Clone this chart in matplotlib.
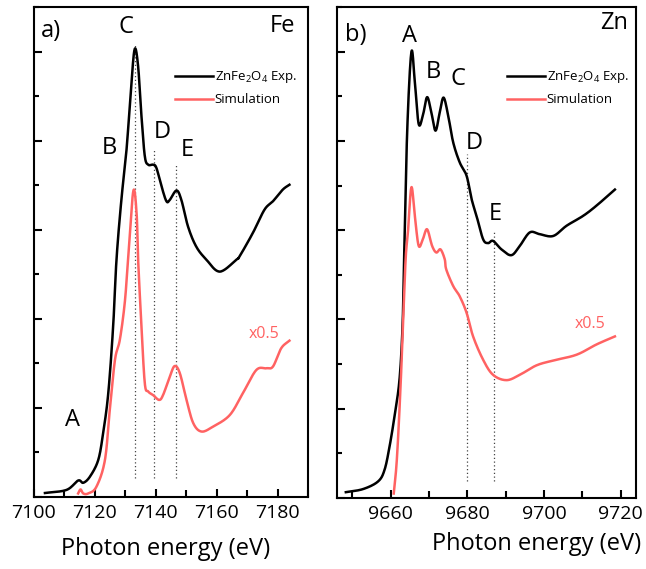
import numpy as np
import matplotlib
matplotlib.use("Agg")
import matplotlib.pyplot as plt
from matplotlib.ticker import MultipleLocator

plt.rcParams['font.family'] = ['Open Sans', 'DejaVu Sans']
plt.rcParams['mathtext.default'] = 'regular'

RED = '#ff6262'

# ==========================================
# DATA
# ==========================================
# Fe K-edge
fe_exp_x = [7103.6, 7110.7, 7114.5, 7116.2, 7118.4, 7121.1, 7122.7, 7124.4, 7126.0, 7127.1,
            7128.7, 7130.4, 7132.0, 7133.1, 7134.2, 7135.3, 7136.4, 7137.5, 7139.1, 7140.2,
            7141.9, 7143.5, 7144.6, 7146.8, 7148.4, 7150.6, 7153.3, 7156.6, 7161.0, 7166.5,
            7167.5, 7171.9, 7175.7, 7178.5, 7181.7, 7183.9]
fe_exp_y = [0.09, 0.16, 0.37, 0.32, 0.46, 0.83, 1.43, 2.33, 3.83, 5.33,
            6.67, 7.80, 9.30, 10.06, 9.67, 8.55, 7.65, 7.46, 7.46, 7.39,
            6.97, 6.64, 6.67, 6.88, 6.67, 6.07, 5.62, 5.33, 5.06, 5.33,
            5.40, 5.93, 6.45, 6.64, 6.90, 7.01]

fe_sim_x = [7114.5, 7115.3, 7116.2, 7117.8, 7120.5, 7123.3, 7124.9, 7126.6, 7128.2, 7129.8,
            7130.9, 7132.6, 7133.7, 7134.2, 7135.3, 7136.4, 7137.5, 7139.1, 7141.1, 7142.4,
            7144.6, 7146.2, 7147.9, 7150.1, 7152.3, 7155.0, 7158.8, 7164.3, 7168.6, 7173.0,
            7176.3, 7178.5, 7181.2, 7183.9]
fe_sim_y = [0.08, 0.17, 0.08, 0.08, 0.23, 0.83, 1.96, 3.08, 3.53, 4.35,
            5.33, 6.86, 6.37, 5.33, 3.83, 2.55, 2.37, 2.29, 2.18, 2.29,
            2.70, 2.94, 2.78, 2.18, 1.66, 1.47, 1.58, 1.84, 2.33, 2.85,
            2.89, 2.93, 3.34, 3.51]

fe_marks_x = [7133.3, 7139.4, 7146.6]
fe_marks_top = [10.2, 7.8, 7.5]

# Zn K-edge
zn_exp_x = [9648.3, 9652.8, 9656.7, 9658.4, 9659.7, 9661.0, 9662.3, 9663.1, 9663.5, 9664.3,
            9665.4, 9666.3, 9667.3, 9668.4, 9669.5, 9670.6, 9671.7, 9672.8, 9673.8, 9675.0,
            9676.3, 9678.0, 9679.8, 9681.1, 9682.4, 9684.1, 9685.4, 9686.7, 9688.9, 9691.5,
            9693.7, 9696.3, 9698.9, 9702.4, 9705.9, 9710.2, 9713.7, 9718.5]
zn_exp_y = [0.13, 0.20, 0.37, 0.63, 1.15, 1.83, 2.65, 3.85, 5.35, 8.20,
            9.99, 9.32, 8.38, 8.57, 8.98, 8.64, 8.23, 8.64, 8.97, 8.57,
            7.97, 7.52, 7.22, 6.70, 6.32, 5.80, 5.71, 5.76, 5.57, 5.44,
            5.65, 5.95, 5.91, 5.87, 6.10, 6.32, 6.55, 6.91]

zn_sim_x = [9660.8, 9661.6, 9662.5, 9663.2, 9663.9, 9664.5, 9665.4, 9666.3, 9667.3, 9668.4,
            9669.5, 9670.8, 9671.9, 9673.0, 9674.1, 9674.5, 9676.3, 9678.0, 9679.8, 9681.5,
            9684.1, 9686.7, 9690.2, 9693.7, 9698.0, 9702.4, 9708.5, 9713.7, 9718.5]
zn_sim_y = [0.10, 0.85, 2.35, 3.85, 5.35, 5.95, 6.96, 6.32, 5.65, 5.80,
            6.02, 5.65, 5.50, 5.57, 5.35, 5.12, 4.75, 4.52, 4.15, 3.62,
            3.10, 2.76, 2.64, 2.76, 2.97, 3.08, 3.21, 3.44, 3.62]

zn_marks_x = [9679.8, 9686.9]
zn_marks_top = [7.7, 5.98]


def smooth(x, y):
    # courbe lissée (Catmull-Rom) passant par les points lus
    x = np.asarray(x, float)
    y = np.asarray(y, float)
    px = np.concatenate([[2 * x[0] - x[1]], x, [2 * x[-1] - x[-2]]])
    py = np.concatenate([[2 * y[0] - y[1]], y, [2 * y[-1] - y[-2]]])
    xs, ys = [], []
    t = np.linspace(0, 1, 20)[:-1]
    for i in range(1, len(px) - 2):
        p0, p1, p2, p3 = (np.array([px[j], py[j]]) for j in range(i - 1, i + 3))
        for tt in t:
            pt = 0.5 * ((2 * p1) + (-p0 + p2) * tt + (2 * p0 - 5 * p1 + 4 * p2 - p3) * tt ** 2
                        + (-p0 + 3 * p1 - 3 * p2 + p3) * tt ** 3)
            xs.append(pt[0])
            ys.append(pt[1])
    xs.append(x[-1])
    ys.append(y[-1])
    return np.array(xs), np.array(ys)


fig = plt.figure(figsize=(6.46, 5.69), dpi=100)
ax1 = fig.add_axes([0.0526, 0.1265, 0.4242, 0.8612])
ax2 = fig.add_axes([0.5217, 0.1248, 0.4628, 0.8629])

lw = 1.8
for ax, ex, ey, sx, sy, mx, mt, mbot in [
        (ax1, fe_exp_x, fe_exp_y, fe_sim_x, fe_sim_y, fe_marks_x, fe_marks_top, 0.43),
        (ax2, zn_exp_x, zn_exp_y, zn_sim_x, zn_sim_y, zn_marks_x, zn_marks_top, 0.37)]:
    for xv, top in zip(mx, mt):
        ax.plot([xv, xv], [mbot, top], ls=(0, (1, 2)), color='#444444', lw=0.9)
    ax.plot(*smooth(ex, ey), color='black', lw=lw, label='ZnFe$_2$O$_4$ Exp.')
    ax.plot(*smooth(sx, sy), color=RED, lw=lw, label='Simulation')
    ax.set_ylim(0, 11)
    ax.yaxis.set_major_locator(MultipleLocator(2))
    ax.yaxis.set_minor_locator(MultipleLocator(1))
    ax.yaxis.set_major_formatter(plt.NullFormatter())
    ax.xaxis.set_major_locator(MultipleLocator(20))
    ax.xaxis.set_minor_locator(MultipleLocator(10))
    ax.tick_params(which='both', direction='in', width=1.5, labelsize=14, pad=5)
    ax.tick_params(which='major', length=6)
    ax.tick_params(which='minor', length=3.5)
    ax.tick_params(axis='x', which='minor', length=5)
    for sp in ax.spines.values():
        sp.set_linewidth(1.5)
    ax.set_xlabel('Photon energy (eV)', fontsize=17)

ax1.set_xlim(7100, 7190)
ax2.set_xlim(9646, 9724)
ax1.xaxis.set_label_coords(0.48, -0.082)
ax2.xaxis.set_label_coords(0.668, -0.07)

fs = 17
ax1.text(7105.6, 10.47, 'a)', fontsize=fs, ha='center', va='center')
ax1.text(7181.6, 10.58, 'Fe', fontsize=fs, ha='center', va='center')
for lab, xx, yy in [('C', 7130.2, 10.54), ('B', 7124.9, 7.84), ('D', 7142.3, 8.2),
                    ('E', 7150.5, 7.8), ('A', 7112.8, 1.73)]:
    ax1.text(xx, yy, lab, fontsize=fs, ha='center', va='center')
ax1.text(7175.7, 3.66, 'x0.5', fontsize=11.5, color=RED, ha='center', va='center')

ax2.text(9650.9, 10.38, 'b)', fontsize=fs, ha='center', va='center')
ax2.text(9718.2, 10.65, 'Zn', fontsize=fs, ha='center', va='center')
for lab, xx, yy in [('A', 9665.0, 10.34), ('B', 9671.2, 9.55), ('C', 9677.5, 9.39),
                    ('D', 9681.9, 7.96), ('E', 9687.4, 6.36)]:
    ax2.text(xx, yy, lab, fontsize=fs, ha='center', va='center')
ax2.text(9712.0, 3.89, 'x0.5', fontsize=11.5, color=RED, ha='center', va='center')

for ax, bx in [(ax1, 0.515), (ax2, 0.569)]:
    ax.legend(loc='upper left', bbox_to_anchor=(bx, 0.873), frameon=False, fontsize=9.5,
              handlelength=2.9, handletextpad=0.1, borderpad=0, borderaxespad=0,
              labelspacing=0.6)

fig.savefig('out.png', dpi=100)
